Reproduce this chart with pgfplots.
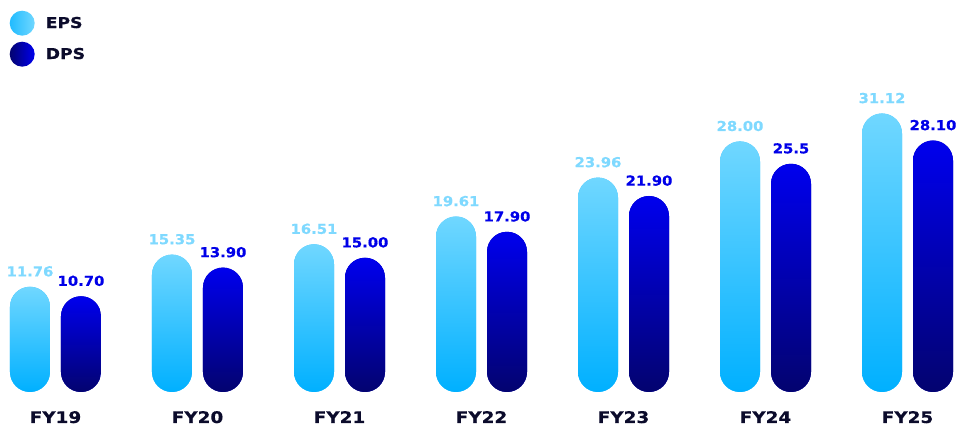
\documentclass[border=0pt]{standalone}
\usepackage{pgfplots}
\usepackage{pgfplotstable}
\pgfplotsset{compat=1.18}
\usepackage{fontspec}
\setmainfont{DejaVu Sans}
\newfontfamily\wide{DejaVu Sans}[FakeStretch=1.15, BoldFeatures={FakeBold=0.6}]
\newfontfamily\wideb{DejaVu Sans}[FakeStretch=1.08, BoldFeatures={FakeBold=0.6}]
\definecolor{epstop}{HTML}{70D7FF}
\definecolor{epsbot}{HTML}{00B0FF}
\definecolor{dpstop}{HTML}{0000EE}
\definecolor{dpsbot}{HTML}{03036F}
\definecolor{epslab}{HTML}{7FD9FF}
\definecolor{dpslab}{HTML}{0000E8}
\definecolor{navy}{HTML}{0B0B2B}
\pgfplotstableread{
x eps epsl dps dpsl
0 11.76 11.76 10.70 10.70
1 15.35 15.35 13.90 13.90
2 16.51 16.51 15.00 15.00
3 19.61 19.61 17.90 17.90
4 23.96 23.96 21.90 21.90
5 28.00 28.00 25.5 25.5
6 31.12 31.12 28.10 28.10
}\data
\begin{document}
\begin{tikzpicture}
\useasboundingbox (0,0) rectangle (956pt,427pt);
\begin{axis}[
  at={(0,0)}, anchor=south west,
  scale only axis, width=956pt, height=427pt,
  xmin=-0.3908, xmax=6.3415, ymin=-3.911, ymax=43.799,
  axis line style={draw=none}, major tick length=0pt,
  ytick=\empty, xtick={0,...,6},
  xticklabels={FY19,FY20,FY21,FY22,FY23,FY24,FY25},
  xticklabel style={anchor=base, yshift=4pt, font=\wide\bfseries\fontsize{16}{16}\selectfont, text=navy, inner sep=0pt},
  clip=false,
  ybar, bar width=40pt,
  legend style={at={(0,1)}, anchor=north west, draw=none, fill=none, inner sep=0pt, row sep=6pt,
    font=\wide\bfseries\fontsize{15}{15}\selectfont, text=navy, xshift=9.5pt, yshift=-10.5pt},
  legend cell align=left,
  point meta=explicit symbolic,
  nodes near coords={\pgfplotspointmeta},
  nodes near coords style={anchor=south, inner sep=0pt, yshift=10pt, font=\wideb\bfseries\fontsize{13.7}{13.7}\selectfont},
]
\addlegendimage{legend image code/.code={\shade[draw=none, left color=epsbot!70!epstop, right color=epstop] (12.5pt,0pt) circle (12.5pt);}}
\addlegendentry{\hspace{9pt}EPS}
\addlegendimage{legend image code/.code={\shade[draw=none, left color=dpsbot, right color=dpstop] (12.5pt,0pt) circle (12.5pt);}}
\addlegendentry{\hspace{9pt}DPS}
\pgfplotsinvokeforeach{0,...,6}{
\addplot[forget plot, bar shift=-25.5pt, draw=none, fill=epstop!50!epsbot, top color=epstop, bottom color=epsbot, rounded corners=20pt,
  restrict x to domain=#1:#1,
  every node near coord/.append style={text=epslab}]
  table[x=x, y=eps, meta=epsl] {\data};
\addplot[forget plot, bar shift=25.5pt, draw=none, fill=dpstop!50!dpsbot, top color=dpstop, bottom color=dpsbot, rounded corners=20pt,
  restrict x to domain=#1:#1,
  every node near coord/.append style={text=dpslab}]
  table[x=x, y=dps, meta=dpsl] {\data};
}
\end{axis}
\end{tikzpicture}
\end{document}
